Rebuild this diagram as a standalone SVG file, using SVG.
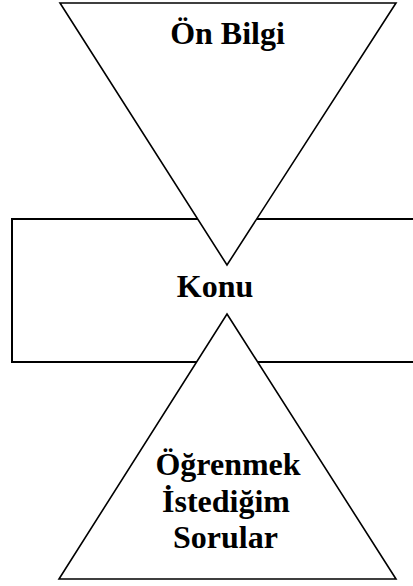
<svg xmlns="http://www.w3.org/2000/svg" width="413" height="586" viewBox="0 0 413 586">
  <style>
    .shape { fill: #ffffff; stroke: #000000; stroke-width: 1.6; stroke-linejoin: miter; }
    .box { fill: #ffffff; stroke: #000000; stroke-width: 2; }
    .label { font-family: "Liberation Serif", "Times New Roman", serif; font-weight: bold; font-size: 32px; fill: #000000; text-anchor: middle; }
  </style>
  <rect width="413" height="586" fill="#ffffff"/>
  <g id="connectors"></g>
  <!-- Topic band across the middle -->
  <g id="konu">
    <rect class="box" x="12" y="219" width="420" height="143"/>
  </g>
  <!-- Prior knowledge: downward triangle -->
  <g id="on-bilgi">
    <polygon class="shape" points="60,3 396,3 227,265"/>
    <text class="label" x="227.5" y="44">Ön Bilgi</text>
  </g>
  <!-- Questions: upward triangle -->
  <g id="sorular">
    <polygon class="shape" points="227,314 396,579 59,579"/>
    <text class="label" x="228" y="475">Öğrenmek</text>
    <text class="label" x="226" y="511.5">İstediğim</text>
    <text class="label" x="225.5" y="548">Sorular</text>
  </g>
  <g id="konu-label">
    <text class="label" x="215" y="297">Konu</text>
  </g>
</svg>
